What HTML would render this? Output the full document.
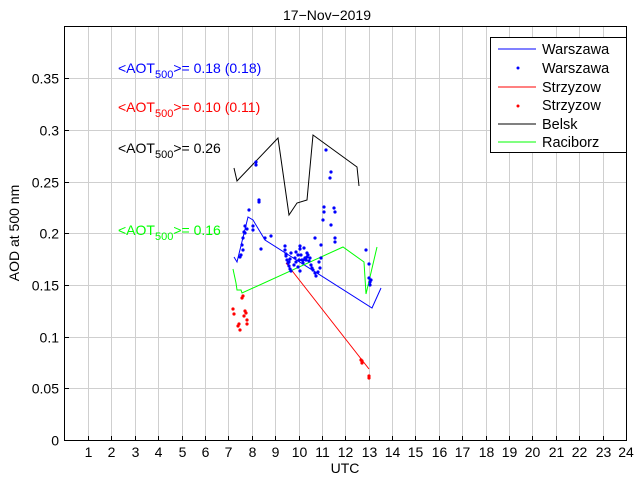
<!DOCTYPE html>
<html><head><meta charset="utf-8"><style>
body{margin:0;background:#fff}
svg{display:block;font-family:"Liberation Sans",sans-serif}
</style></head><body>
<svg width="640" height="480" viewBox="0 0 640 480">
<rect width="640" height="480" fill="#fff"/>
<g stroke="#cfcfcf" stroke-width="1" id="grid"></g>
<rect x="64.5" y="26.5" width="562" height="414" fill="none" stroke="#000"/>
<g id="ticks" font-size="14" fill="#000"></g>
<text x="327" y="20" font-size="14" text-anchor="middle">17−Nov−2019</text>
<text x="345" y="473" font-size="14" text-anchor="middle">UTC</text>
<text transform="translate(19,233) rotate(-90)" font-size="14" text-anchor="middle">AOD at 500 nm</text>
<g font-size="14">
<text x="118" y="73" fill="#00f">&lt;AOT<tspan font-size="11" dy="5">500</tspan><tspan dy="-5">&gt;= 0.18 (0.18)</tspan></text>
<text x="118" y="112" fill="#f00">&lt;AOT<tspan font-size="11" dy="5">500</tspan><tspan dy="-5">&gt;= 0.10 (0.11)</tspan></text>
<text x="118" y="153" fill="#000">&lt;AOT<tspan font-size="11" dy="5">500</tspan><tspan dy="-5">&gt;= 0.26</tspan></text>
<text x="118" y="235" fill="#0f0">&lt;AOT<tspan font-size="11" dy="5">500</tspan><tspan dy="-5">&gt;= 0.16</tspan></text>
</g>
<g fill="none" stroke-width="1">
<polyline stroke="#000" points="234,168 237,181 278,138 289,215 297,203 307,200 313,135 357,167 359,186"/>
<polyline stroke="#00f" points="234,257 237,262 248,217 253,220 265,240 372,308 381,288"/>
<polyline stroke="#f00" points="286,263 369,369"/>
<polyline stroke="#0f0" points="233,269 236,283 237,290 241,290 242,293 343,247 364,262 366,294 377,247"/>
</g>
<g fill="#00f" id="bd"></g>
<g fill="#f00" id="rd"></g>
<g>
<rect x="490.5" y="37.5" width="136" height="115" fill="#fff" stroke="#000"/>
<line x1="498" y1="49" x2="536" y2="49" stroke="#00f"/>
<circle cx="518" cy="68" r="1.5" fill="#00f"/>
<line x1="498" y1="87" x2="536" y2="87" stroke="#f00"/>
<circle cx="518" cy="106" r="1.5" fill="#f00"/>
<line x1="498" y1="124" x2="536" y2="124" stroke="#000"/>
<line x1="498" y1="142" x2="536" y2="142" stroke="#0f0"/>
<g font-size="14.5"><text x="542" y="54">Warszawa</text><text x="542" y="73">Warszawa</text><text x="542" y="92">Strzyzow</text><text x="542" y="110">Strzyzow</text><text x="542" y="129">Belsk</text><text x="542" y="147">Raciborz</text></g>
</g>
</svg>
<script>
var ns="http://www.w3.org/2000/svg",g=document.getElementById("grid"),t=document.getElementById("ticks");
function el(p,n,a,txt){var e=document.createElementNS(ns,n);for(var k in a)e.setAttribute(k,a[k]);if(txt!=null)e.textContent=txt;p.appendChild(e);return e;}
for(var i=1;i<24;i++){var x=64.6+i*23.39;x=Math.round(x)+0.5;el(g,"line",{x1:x,y1:27,x2:x,y2:440});el(t,"line",{x1:x,y1:440,x2:x,y2:436,stroke:"#000"});el(t,"text",{x:x,y:457,"text-anchor":"middle"},""+i);}
el(t,"text",{x:626,y:457,"text-anchor":"middle"},"24");
var lab=["0","0.05","0.1","0.15","0.2","0.25","0.3","0.35"];
for(var j=0;j<8;j++){var y=Math.round(440-j*51.7)+0.5;if(j>0){el(g,"line",{x1:65,y1:y,x2:626,y2:y});el(t,"line",{x1:65,y1:y,x2:69,y2:y,stroke:"#000"});}el(t,"text",{x:59,y:y+5,"text-anchor":"end"},lab[j]);}
var bd=[[256,162],[256,165],[259,200],[259,202],[249,210],[253,226],[253,230],[245,226],[244,232],[243,238],[242,245],[243,250],[241,255],[240,257],[247,229],[245,233],[261,249],[265,238],[271,236],[285,246],[285,250],[286,254],[286,256],[287,260],[289,262],[289,266],[290,269],[291,271],[294,265],[296,262],[296,252],[298,255],[300,246],[300,249],[301,255],[302,260],[303,260],[305,258],[307,257],[307,253],[304,248],[308,255],[310,258],[311,265],[312,268],[313,270],[315,273],[316,276],[318,272],[320,268],[319,262],[321,258],[315,238],[321,245],[323,220],[324,212],[324,207],[330,178],[331,172],[331,225],[334,208],[335,212],[335,242],[335,238],[326,150],[366,250],[369,278],[370,282],[370,285],[371,280],[369,264],[298,267],[300,271],[303,263],[295,258],[290,259],[288,263],[291,253],[299,260],[306,260],[309,261]];
var bg=document.getElementById("bd");bd.forEach(function(p){el(bg,"circle",{cx:p[0],cy:p[1],r:1.6});});
var rd=[[233,309],[234,314],[245,311],[246,313],[244,316],[239,324],[238,326],[240,330],[247,320],[247,324],[243,296],[242,298],[361,360],[362,363],[362,361],[369,376],[369,378]];
var rg=document.getElementById("rd");rd.forEach(function(p){el(rg,"circle",{cx:p[0],cy:p[1],r:1.6});});
</script>
</body></html>
